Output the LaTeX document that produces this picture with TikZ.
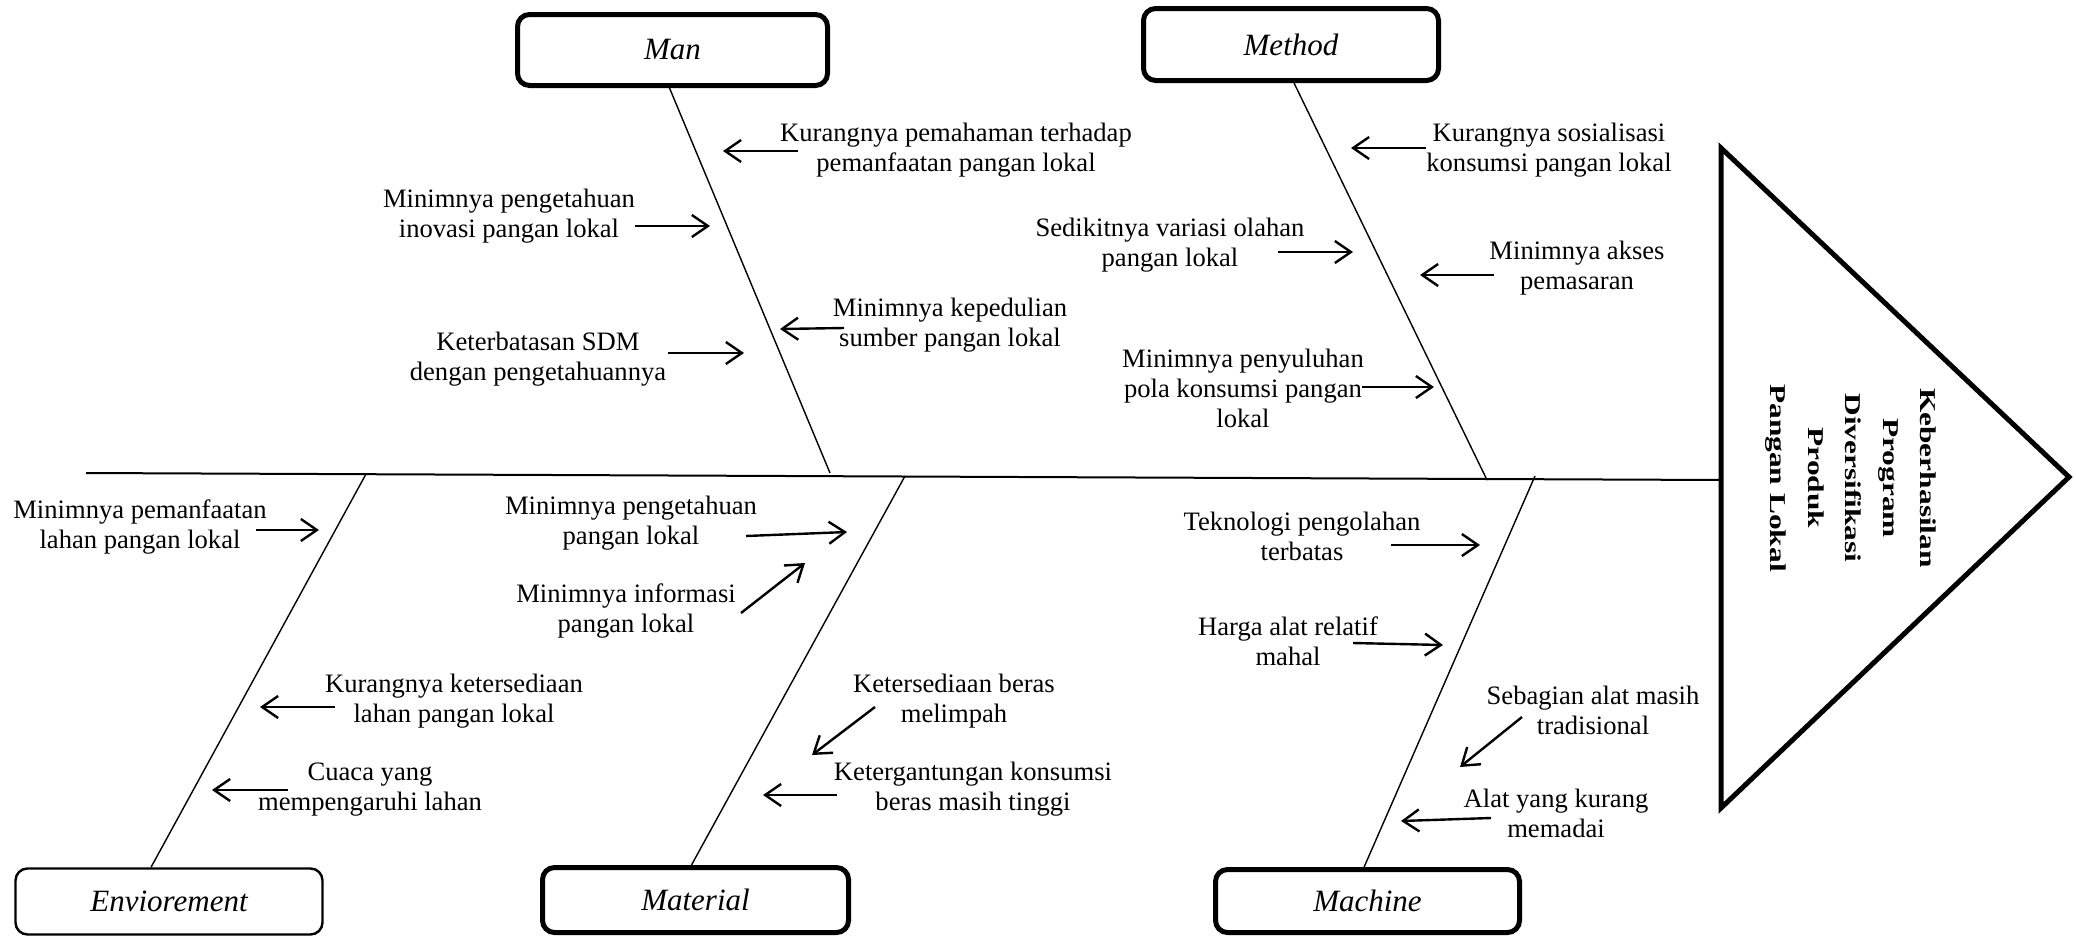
\documentclass[tikz,border=0pt]{standalone}
\usepackage{fontspec}
\setmainfont{Liberation Serif}
\usetikzlibrary{arrows.meta}
\begin{document}
\begin{tikzpicture}[x=0.5pt, y=-0.5pt,
  lbl/.style={font=\fontsize{13.3}{15}\selectfont, align=center, inner sep=0pt},
  cause/.style={draw, rounded corners=6pt, line width=2.5pt, inner sep=0pt,
     font=\fontsize{15.5}{18}\selectfont\itshape},
  thincause/.style={cause, line width=1.2pt},
  arr/.style={-{Straight Barb[length=8pt,width=11pt]}, line width=1.2pt},
  bone/.style={line width=0.7pt},
  spine/.style={line width=1pt},
  head/.style={line width=2.5pt, line join=miter}]
\useasboundingbox (0,0) rectangle (2076,937);

% cause boxes
\node[cause, minimum width=155pt, minimum height=35.5pt] (man) at (672.5,50) {Man};
\node[cause, minimum width=147.5pt, minimum height=36pt] (method) at (1291,44.5) {Method};
\node[thincause, minimum width=153.5pt, minimum height=33pt] (env) at (169,901.5) {Enviorement};
\node[cause, minimum width=153pt, minimum height=32.5pt] (material) at (695.5,900) {Material};
\node[cause, minimum width=152pt, minimum height=31.5pt] (machine) at (1367.5,901) {Machine};

% head triangle
\coordinate (htop) at (1721,148);
\coordinate (hbot) at (1721,808);
\coordinate (htip) at (2069,477);
\draw[head] (htop) -- (htip) -- (hbot) -- cycle;
\node[rotate=-90, yscale=0.72, align=center, inner sep=0pt,
  font=\fontsize{15.7}{26}\selectfont\bfseries] (effect) at (1851,478)
  {Keberhasilan\\Program\\Diversifikasi\\Produk\\Pangan Lokal};

% spine
\coordinate (sp0) at (86,473);
\coordinate (sp1) at (1721,480);
\draw[spine] (sp0) -- (sp1);

% bones
\coordinate (jman) at (830,473);
\coordinate (jmethod) at (1487,480);
\coordinate (jenv) at (366,474);
\coordinate (jmat) at (905,476);
\coordinate (jmach) at (1535,476);
\draw[bone] ([xshift=-1.5pt]man.south) -- (jman);
\draw[bone] ([xshift=1.5pt]method.south) -- (jmethod);
\draw[bone] ([xshift=-9pt]env.north) -- (jenv);
\draw[bone] ([xshift=-2pt]material.north) -- (jmat);
\draw[bone] ([xshift=-1.7pt]machine.north) -- (jmach);

% Man labels
\node[lbl] (l1) at (956,150) {Kurangnya pemahaman terhadap\\pemanfaatan pangan lokal};
\node[lbl] (l2) at (509,216) {Minimnya pengetahuan\\inovasi pangan lokal};
\node[lbl] (l3) at (950,325) {Minimnya kepedulian\\sumber pangan lokal};
\node[lbl] (l4) at (538,359) {Keterbatasan SDM\\dengan pengetahuannya};
% Method labels
\node[lbl] (l5) at (1549,150) {Kurangnya sosialisasi\\konsumsi pangan lokal};
\node[lbl] (l6) at (1170,245) {Sedikitnya variasi olahan\\pangan lokal};
\node[lbl] (l7) at (1577,268) {Minimnya akses\\pemasaran};
\node[lbl] (l8) at (1243,388) {Minimnya penyuluhan\\pola konsumsi pangan\\lokal};
% Environment labels
\node[lbl] (l9) at (140,527) {Minimnya pemanfaatan\\lahan pangan lokal};
\node[lbl] (l10) at (454,701) {Kurangnya ketersediaan\\lahan pangan lokal};
\node[lbl] (l11) at (370,790) {Cuaca yang\\mempengaruhi lahan};
% Material labels
\node[lbl] (l12) at (631,523) {Minimnya pengetahuan\\pangan lokal};
\node[lbl] (l13) at (626,611) {Minimnya informasi\\pangan lokal};
\node[lbl] (l14) at (954,701) {Ketersediaan beras\\melimpah};
\node[lbl] (l15) at (973,789) {Ketergantungan konsumsi\\beras masih tinggi};
% Machine labels
\node[lbl] (l16) at (1302,536) {Teknologi pengolahan\\terbatas};
\node[lbl] (l17) at (1288,641) {Harga alat relatif\\mahal};
\node[lbl] (l18) at (1593,710) {Sebagian alat masih\\tradisional};
\node[lbl] (l19) at (1556,813) {Alat yang kurang\\memadai};

% arrow end points
\coordinate (a1s) at (798,151);  \coordinate (a1t) at (723,151);
\coordinate (a2s) at (635,226);  \coordinate (a2t) at (710,226);
\coordinate (a3s) at (844,328);  \coordinate (a3t) at (780,329);
\coordinate (a4s) at (668,353);  \coordinate (a4t) at (744,353);
\coordinate (a5s) at (1426,148); \coordinate (a5t) at (1351,148);
\coordinate (a6s) at (1278,252); \coordinate (a6t) at (1353,252);
\coordinate (a7s) at (1494,275); \coordinate (a7t) at (1420,275);
\coordinate (a8s) at (1362,387); \coordinate (a8t) at (1434,387);
\coordinate (a9s) at (256,530);  \coordinate (a9t) at (319,530);
\coordinate (a10s) at (335,707); \coordinate (a10t) at (260,707);
\coordinate (a11s) at (288,790); \coordinate (a11t) at (212,790);
\coordinate (a12s) at (746,536); \coordinate (a12t) at (847,532);
\coordinate (a13s) at (741,613); \coordinate (a13t) at (805,563);
\coordinate (a14s) at (875,707); \coordinate (a14t) at (812,755);
\coordinate (a15s) at (837,795); \coordinate (a15t) at (763,795);
\coordinate (a16s) at (1391,545); \coordinate (a16t) at (1480,545);
\coordinate (a17s) at (1353,643); \coordinate (a17t) at (1443,645);
\coordinate (a18s) at (1522,717); \coordinate (a18t) at (1460,767);
\coordinate (a19s) at (1491,818); \coordinate (a19t) at (1401,821);

\foreach \i in {1,...,19} {\draw[arr] (a\i s) -- (a\i t);}
\end{tikzpicture}
\end{document}
